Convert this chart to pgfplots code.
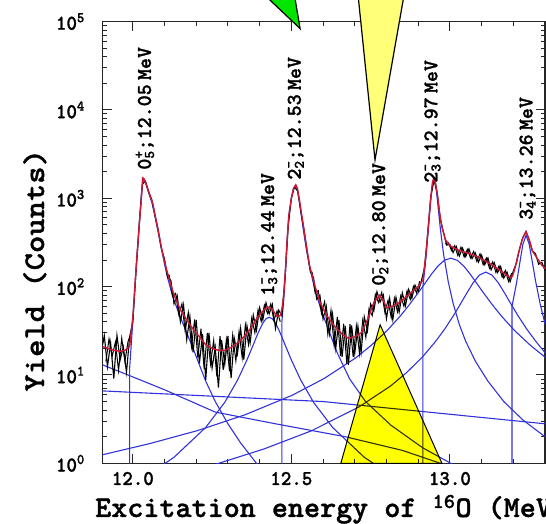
\documentclass[border=0pt]{standalone}
\usepackage{pgfplots}
\pgfplotsset{compat=1.18}
\usepackage{fontspec}
\newfontfamily\labfont[FakeStretch=0.95,FakeBold=1.2]{lmmonolt10-bold.otf}
\newfontfamily\pkfont[FakeStretch=1.0,FakeBold=1.2]{lmmonolt10-bold.otf}
\newfontfamily\axfont[FakeStretch=1.02,FakeBold=1.2]{lmmonolt10-bold.otf}
\newfontfamily\ylfont[FakeStretch=1.1,FakeBold=1.2]{lmmonolt10-bold.otf}
\definecolor{fitred}{RGB}{205,25,55}
\definecolor{compblue}{RGB}{50,50,220}
\definecolor{greenc}{RGB}{0,230,0}
\definecolor{ylw}{RGB}{255,255,0}
\definecolor{ylwlight}{RGB}{255,255,120}
\begin{document}
\begin{tikzpicture}
\begin{axis}[
  at={(0pt,0pt)}, anchor=south west,
  scale only axis, width=442.3pt, height=441.7pt,
  xmin=11.905, xmax=13.30, ymin=1, ymax=1e5, ymode=log,
  clip mode=individual,
  axis line style={line width=1.3pt, black!85},
  tick align=inside,
  major tick length=9pt, minor tick length=4.5pt,
  every tick/.style={black!85, line width=1pt},
  xtick={12,12.5,13}, xticklabels={12.0,12.5,13.0},
  minor xtick={12.1,12.2,12.3,12.4,12.6,12.7,12.8,12.9,13.1,13.2},
  ytick={1,10,100,1000,10000,100000},
  yticklabels={10\textsuperscript{0},10\textsuperscript{1},10\textsuperscript{2},10\textsuperscript{3},10\textsuperscript{4},10\textsuperscript{5}},
  minor ytick={2,3,4,5,6,7,8,9,20,30,40,50,60,70,80,90,200,300,400,500,600,700,800,900,2000,3000,4000,5000,6000,7000,8000,9000,20000,30000,40000,50000,60000,70000,80000,90000},
  xticklabel style={font=\fontsize{21}{25}\labfont, anchor=base, inner sep=0pt, yshift=-21.7pt},
  yticklabel style={font=\fontsize{21}{25}\labfont, anchor=east, inner sep=0pt, xshift=-17.7pt},
  xlabel={Excitation energy of \textsuperscript{16}O (MeV)},
  xlabel style={font=\fontsize{30}{34}\axfont, at={(axis description cs:-0.0174,-0.1215)}, anchor=base west, inner sep=0pt},
  ylabel={Yield (Counts)},
  ylabel style={font=\fontsize{30}{34}\ylfont, at={(axis description cs:-0.1327,0.437)}, anchor=base, inner sep=0pt},
]
% ---- blue fit components ----
% P1 0+ 12.05
\addplot[compblue, line width=1.1pt] coordinates {(11.99,0.5)(11.99,12)(12.00,40)(12.01,150)(12.02,500)(12.027,1100)(12.033,1650)(12.04,1500)(12.05,1150)(12.06,900)(12.07,620)(12.08,410)(12.09,270)(12.10,180)(12.11,125)(12.12,92)(12.13,70)(12.15,45)(12.17,30)(12.19,20)(12.21,13)(12.23,8.5)(12.26,5)(12.30,2.8)(12.34,1.7)(12.39,1.0)(12.45,0.6)};
% P2 1- 12.44
\addplot[compblue, line width=1.1pt] coordinates {(11.93,0.43)(12.03,0.67)(12.13,1.17)(12.23,2.55)(12.29,4.9)(12.33,8.7)(12.36,14.8)(12.38,22)(12.39,27)(12.40,32.7)(12.41,38.6)(12.42,43.2)(12.43,45)(12.44,43.2)(12.45,38.6)(12.46,32.7)(12.47,27)(12.48,22)(12.50,14.8)(12.53,8.7)(12.57,4.9)(12.63,2.55)(12.73,1.17)(12.83,0.67)(12.93,0.43)};
% P3 2- 12.53
\addplot[compblue, line width=1.1pt] coordinates {(12.47,0.5)(12.47,40)(12.476,70)(12.482,160)(12.487,350)(12.492,640)(12.50,1000)(12.507,1300)(12.514,1400)(12.519,1275)(12.525,950)(12.536,484)(12.547,267)(12.558,164)(12.574,93)(12.594,54)(12.614,35)(12.644,18)(12.684,9)(12.734,5)(12.814,2.7)(12.914,1.5)(13.014,0.95)(13.114,0.65)(13.314,0.38)};
% P5 2- 12.97
\addplot[compblue, line width=1.1pt] coordinates {(12.915,0.5)(12.915,100)(12.925,220)(12.932,450)(12.94,1000)(12.945,1450)(12.95,1700)(12.955,1448)(12.96,1003)(12.97,450)(12.98,234)(12.995,113)(13.01,65)(13.03,37)(13.05,24)(13.08,14.4)(13.12,8.5)(13.17,5)(13.23,3.1)(13.30,2.0)};
% B1 broad
\addplot[compblue, line width=1.1pt] coordinates {(11.905,1.25)(12.053,1.67)(12.203,2.34)(12.353,3.53)(12.503,5.9)(12.603,9.1)(12.703,15.6)(12.753,21.8)(12.803,32.1)(12.843,46.2)(12.873,62.9)(12.903,88)(12.923,111)(12.943,140)(12.963,172)(12.983,199)(13.003,210)(13.023,199)(13.043,172)(13.063,140)(13.083,111)(13.103,88)(13.133,62.9)(13.163,46.2)(13.203,32.1)(13.253,21.8)(13.30,15.9)};
% B2 broad
\addplot[compblue, line width=1.1pt] coordinates {(11.905,0.49)(12.113,0.71)(12.263,0.98)(12.413,1.45)(12.563,2.33)(12.713,4.34)(12.813,7.5)(12.863,10.6)(12.913,15.9)(12.953,23.5)(12.983,32.8)(13.013,48)(13.033,63.3)(13.053,84)(13.073,110)(13.093,135)(13.113,146)(13.133,135)(13.153,110)(13.173,84)(13.193,63.3)(13.213,48)(13.243,32.8)(13.273,23.5)(13.30,17.9)};
% P6 3- 13.26
\addplot[compblue, line width=1.1pt] coordinates {(13.196,0.5)(13.196,60)(13.21,109)(13.22,181)(13.23,298)(13.24,380)(13.25,304)(13.26,190)(13.27,117)(13.285,63)(13.30,38)};
% backgrounds
\addplot[compblue, line width=1.1pt] coordinates {(11.905,6.6)(12.6,5.0)(13.30,2.8)};
\addplot[compblue, line width=1.1pt] coordinates {(11.905,13)(12.0,9.5)(12.1,6.8)(12.26,3.8)(12.45,2.8)(12.67,2.0)(12.85,1.4)(12.97,1.0)(13.1,0.7)(13.3,0.45)};
% ---- 0- 12.80 component (yellow) ----
\addplot[draw=black, line width=1pt, fill=ylw, blend mode=multiply] coordinates {(12.656,1)(12.780,37)(12.975,1)} \closedcycle;
% ---- data ----
\addplot[black, line width=1.1pt] coordinates {
(11.905,22)(11.91,28)(11.92,12.4)(11.93,23)(11.94,9.1)(11.95,28)(11.96,14.8)(11.97,20.7)(11.98,10.7)(11.99,27)
(12.00,40)(12.01,150)(12.02,480)(12.03,1450)(12.04,1560)(12.05,1180)(12.06,960)(12.07,640)(12.08,440)(12.09,270)
(12.10,205)(12.11,126)(12.12,118)(12.13,64)(12.14,79)(12.15,40)(12.16,62)(12.17,25)(12.18,46)(12.19,18)
(12.20,42)(12.21,13.5)(12.22,29)(12.23,8.8)(12.24,30)(12.25,12)(12.26,20.5)(12.27,7.2)(12.28,24.7)(12.29,13.3)
(12.30,27.6)(12.31,9.2)(12.32,26)(12.33,17.3)(12.34,33.8)(12.35,14.9)(12.36,36)(12.37,23)(12.38,47.5)(12.39,32)
(12.40,57.6)(12.41,42)(12.42,65.6)(12.43,49)(12.44,63)(12.45,33.6)(12.46,54)(12.47,47)(12.48,125)(12.49,480)
(12.50,1000)(12.51,1350)(12.52,1200)(12.53,700)(12.54,440)(12.55,252)(12.56,147)(12.57,126)(12.58,72)(12.59,80)
(12.60,43)(12.61,60)(12.62,29)(12.63,49)(12.64,20)(12.65,42)(12.66,16)(12.67,36)(12.68,13)(12.69,36.4)
(12.70,17.6)(12.71,35.6)(12.72,18)(12.73,45.5)(12.74,31.5)(12.75,63.6)(12.76,52.8)(12.77,87.4)(12.78,67)(12.79,80.5)
(12.80,43.5)(12.81,73.8)(12.82,42)(12.83,75.6)(12.84,51.5)(12.85,85)(12.86,60.8)(12.87,93)(12.88,74)(12.89,104)
(12.90,88)(12.91,115)(12.92,165)(12.93,400)(12.94,1050)(12.95,1600)(12.96,1150)(12.97,580)(12.98,410)(12.99,295)
(13.00,302)(13.01,243)(13.02,286)(13.03,222)(13.04,273)(13.05,219)(13.06,267)(13.07,208)(13.08,241)(13.09,189)
(13.10,227)(13.11,177)(13.12,211)(13.13,155)(13.14,186)(13.15,144)(13.16,169)(13.17,125)(13.18,146)(13.19,114)
(13.20,150)(13.21,185)(13.22,270)(13.23,360)(13.24,420)(13.25,340)(13.26,255)(13.27,236)(13.28,179)(13.29,189)(13.30,152)};
% intermediate channels of the data
\addplot[black, line width=1.0pt] coordinates {(11.915,14.2)(11.925,25.6)(11.935,16.3)(11.945,23.5)(11.955,11.2)(11.965,26)(11.975,14.3)(11.985,24)(11.995,30)};
\addplot[black, line width=1.0pt] coordinates {(12.105,140)(12.115,134)(12.125,78)(12.135,84)(12.145,48)(12.155,64)(12.165,31.5)(12.175,51)(12.185,21)(12.195,42.5)(12.205,15.7)(12.215,33.4)(12.225,11.6)(12.235,30)(12.245,13.3)(12.255,24.6)(12.265,9.6)(12.275,27.5)(12.285,11.4)(12.295,25)(12.305,11)(12.315,28.4)(12.325,14.5)(12.335,31)(12.345,15.6)(12.355,37)(12.365,22)(12.375,44)(12.385,30)(12.395,54.6)(12.405,40.4)(12.415,61.6)(12.425,49.7)(12.435,63.8)(12.445,41.6)(12.455,52.9)(12.465,40)};
\addplot[black, line width=1.0pt] coordinates {(12.565,148)(12.575,85)(12.585,90)(12.595,49.6)(12.605,67.6)(12.615,29)(12.625,54)(12.635,21.6)(12.645,45.5)(12.655,16.5)(12.665,38)(12.675,13.4)(12.685,37.7)(12.695,15.9)(12.705,36)(12.715,17.4)(12.725,41.6)(12.735,26.6)(12.745,56.4)(12.755,47)(12.765,81.6)(12.775,66)(12.785,86)(12.795,51)(12.805,70)(12.815,44.6)(12.825,73.8)(12.835,51.6)(12.845,78.8)(12.855,60)(12.865,90)(12.875,71.4)(12.885,100.8)(12.895,85)(12.905,115.5)};
\addplot[black, line width=1.0pt] coordinates {(12.985,304)(12.995,315)(13.005,256)(13.015,291)(13.025,225)(13.035,280)(13.045,216)(13.055,264)(13.065,211)(13.075,250)(13.085,193)(13.095,235)(13.105,177)(13.115,211)(13.125,161)(13.135,191)(13.145,145)(13.155,171)(13.165,128)(13.175,152)(13.185,114)(13.195,142)};
% ---- total fit ----
\addplot[fitred, line width=1.4pt] coordinates {
(11.905,21)(11.92,20)(11.94,19)(11.96,18.5)(11.975,19)(11.99,21)(12.00,45)(12.01,155)(12.02,490)(12.026,900)(12.031,1700)(12.036,1650)(12.045,1350)(12.055,1050)(12.063,870)(12.07,650)(12.08,430)(12.09,280)(12.10,190)(12.11,140)(12.12,105)(12.13,80)(12.15,55)(12.17,42)(12.19,33)(12.21,27)(12.23,22)(12.25,20)(12.27,19)(12.29,19)(12.31,20.5)(12.33,23)(12.35,27)(12.37,33)(12.39,43)(12.41,53)(12.425,59)(12.44,55)(12.455,46)(12.465,47)(12.47,55)(12.476,80)(12.482,170)(12.487,350)(12.492,640)(12.50,1000)(12.507,1300)(12.514,1420)(12.519,1300)(12.525,980)(12.536,545)(12.547,290)(12.558,170)(12.575,100)(12.59,67)(12.61,48)(12.635,36)(12.66,29)(12.68,26)(12.70,27)(12.72,30)(12.74,42)(12.76,66)(12.778,80)(12.79,70)(12.80,58)(12.82,60)(12.84,66)(12.86,76)(12.88,87)(12.90,100)(12.915,118)(12.925,240)(12.932,480)(12.94,1050)(12.945,1500)(12.949,1700)(12.955,1450)(12.96,1150)(12.967,700)(12.975,470)(12.986,340)(13.00,290)(13.03,255)(13.06,238)(13.09,215)(13.12,188)(13.15,160)(13.175,138)(13.19,127)(13.197,130)(13.205,160)(13.215,230)(13.228,340)(13.24,420)(13.25,340)(13.26,255)(13.275,210)(13.29,175)(13.30,160)};
% ---- peak labels ----
\begin{scope}[every node/.style={rotate=90, anchor=west, inner sep=0pt, font=\fontsize{21}{25}\pkfont}]
\node at (axis cs:12.038,2098) {0\rlap{\textsuperscript{+}}\textsubscript{5};12.05\hspace{0.2em}MeV};
\node at (axis cs:12.43,78.5) {1\rlap{\textsuperscript{-}}\textsubscript{3};12.44\hspace{0.2em}MeV};
\node at (axis cs:12.514,1616) {2\rlap{\textsuperscript{-}}\textsubscript{2};12.53\hspace{0.2em}MeV};
\node at (axis cs:12.78,102) {0\rlap{\textsuperscript{-}}\textsubscript{2};12.80\hspace{0.2em}MeV};
\node at (axis cs:12.945,1494) {2\rlap{\textsuperscript{-}}\textsubscript{3};12.97\hspace{0.2em}MeV};
\node at (axis cs:13.245,569) {3\rlap{\textsuperscript{-}}\textsubscript{4};13.26\hspace{0.2em}MeV};
\end{scope}
\end{axis}
% ---- call-out triangles of the slide ----
\fill[greenc] (146pt,483.3pt) -- (197.4pt,434.7pt) -- (189.2pt,483.3pt) -- cycle;
\draw[line width=1.2pt] (146pt,483.3pt) -- (197.4pt,434.7pt) -- (189.2pt,483.3pt);
\fill[ylwlight] (253.8pt,483.3pt) -- (272.3pt,303.3pt) -- (304pt,483.3pt) -- cycle;
\draw[line width=1.2pt] (253.8pt,483.3pt) -- (272.3pt,303.3pt) -- (304pt,483.3pt);
\pgfresetboundingbox
\useasboundingbox (-102.7pt,-60.7pt) rectangle (443.3pt,463.3pt);
\end{tikzpicture}
\end{document}
